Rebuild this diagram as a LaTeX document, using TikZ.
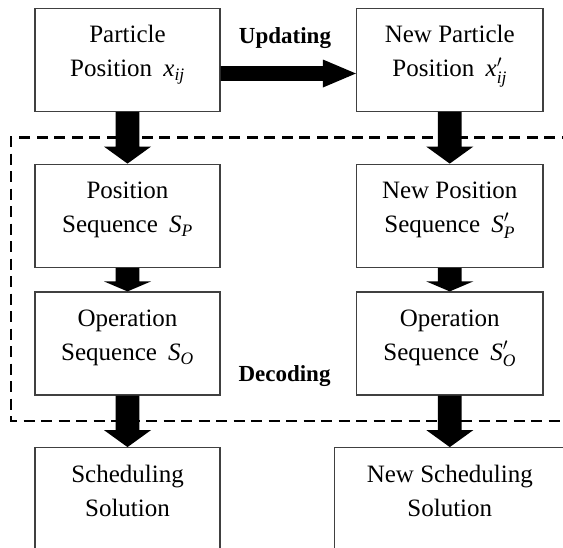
\documentclass[tikz,border=0pt]{standalone}
\usepackage{fontspec}
\usepackage{amsmath}
\setmainfont{Liberation Serif}
\usetikzlibrary{calc}

% two centred text lines inside a box, on fixed baselines
\newcommand\boxlines[3]{%
  \path (#1.north) ++(0,-35pt) node[txt,anchor=base] (#1top) {#2}
        ++(0,-34pt) node[txt,anchor=base] (#1bot) {#3};}

% broad downward block arrow from the bottom of one box to the top of the next
\newcommand\downblock[3]{%
  \fill[blockfill] ($(#1.south)+(-11.85pt,0pt)$) -- ($(#2.north)+(-11.85pt,#3)$)
    -- ($(#2.north)+(-23.5pt,#3)$) -- (#2.north) -- ($(#2.north)+(23.5pt,#3)$)
    -- ($(#2.north)+(11.85pt,#3)$) -- ($(#1.south)+(11.85pt,0pt)$) -- cycle;}

\newcommand\gapsp{\hspace{0.45em}}

\begin{document}
\begin{tikzpicture}[x=1pt,y=-1pt,
  box/.style={draw=black!75, line width=1.2pt, rectangle, inner sep=0pt,
              minimum width=#1, minimum height=103pt},
  box/.default=185pt,
  txt/.style={font=\fontsize{25}{30}\selectfont, inner sep=0pt},
  lbl/.style={font=\fontsize{23}{28}\selectfont\bfseries, inner sep=0pt},
  blockfill/.style={fill=black},
  dashline/.style={draw=black, line width=2.6pt, dash pattern=on 11pt off 6.5pt}]

\useasboundingbox (0,0) rectangle (563,547);
\clip (0,0) rectangle (563,547);

% decoding region
\draw[dashline] (590,137.5) -| (11,421) -- (590,421);

% boxes
\node[box] (A) at (127.5,59.8) {};
\node[box=186.5pt] (B) at (449.75,59.8) {};
\node[box] (C) at (127.5,215.7) {};
\node[box=186.5pt] (F) at (449.75,215.7) {};
\node[box] (D) at (127.5,343.5) {};
\node[box=186.5pt] (G) at (449.75,343.5) {};
\node[box] (E) at (127.5,499.2) {};
\node[box=230.4pt] (H) at (449.8,499.2) {};

% box texts
\boxlines{A}{Particle}{Position\gapsp$\textit{x}_{\textit{ij}}$}
\boxlines{B}{New Particle}{Position\gapsp$\textit{x}^{\prime}_{\textit{ij}}$}
\boxlines{C}{Position}{Sequence\gapsp$\textit{S}_{\textit{P}}$}
\boxlines{F}{New Position}{Sequence\gapsp$\textit{S}^{\prime}_{\textit{P}}$}
\boxlines{D}{Operation}{Sequence\gapsp$\textit{S}_{\textit{O}}$}
\boxlines{G}{Operation}{Sequence\gapsp$\textit{S}^{\prime}_{\textit{O}}$}
\boxlines{E}{Scheduling}{Solution}
\boxlines{H}{New Scheduling}{Solution}

% labels
\node[lbl, anchor=base] (upd) at (285,43) {Updating};
\node[lbl, anchor=base] (dec) at (284.5,381) {Decoding};

% updating arrow
\coordinate (updy) at (0,73.5);
\fill[blockfill] ($(A.east |- updy)+(0,7.35pt)$) -- ($(B.west |- updy)+(-33pt,7.35pt)$)
  -- ($(B.west |- updy)+(-33pt,14pt)$) -- (B.west |- updy)
  -- ($(B.west |- updy)+(-33pt,-14pt)$) -- ($(B.west |- updy)+(-33pt,-7.35pt)$)
  -- ($(A.east |- updy)+(0,-7.35pt)$) -- cycle;

% downward arrows
\downblock{A}{C}{17pt}
\downblock{B}{F}{17pt}
\downblock{C}{D}{10pt}
\downblock{F}{G}{10pt}
\downblock{D}{E}{17pt}
\downblock{G}{H}{17pt}
\end{tikzpicture}
\end{document}
